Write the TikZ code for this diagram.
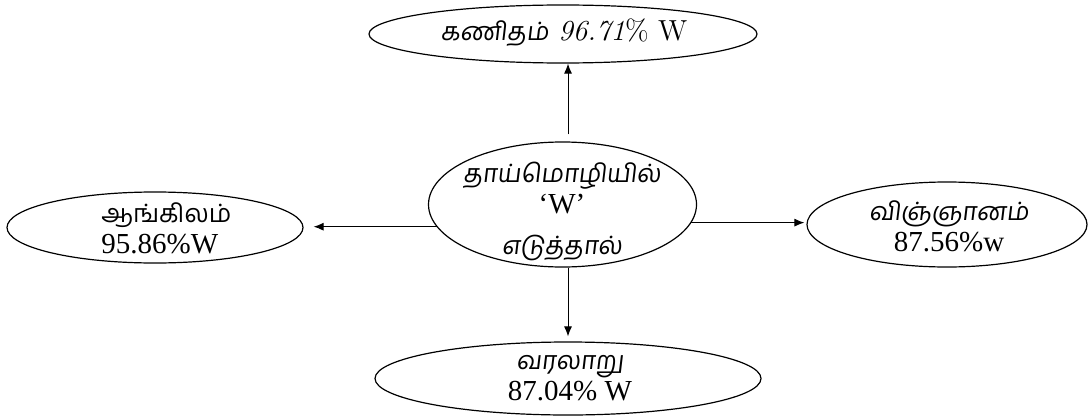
\documentclass[tikz,border=0pt]{standalone}
\usepackage{fontspec}
\usetikzlibrary{shapes.geometric,arrows.meta}
\newfontfamily\tamil[Script=Tamil,FakeSlant=0.12,Scale=0.87]{Hind Madurai}
\newfontfamily\tamilup[Script=Tamil,Scale=0.87]{Hind Madurai}
\newfontfamily\tms{Liberation Serif}
\begin{document}
\begin{tikzpicture}[x=0.5pt,y=-0.5pt,
  bubble/.style={draw,ellipse,inner sep=0pt,line width=0.6pt},
  caption/.style={align=center,inner sep=0pt,
    font=\fontsize{14.5}{15.5}\selectfont},
  link/.style={-{Latex[length=5pt,width=4pt]},line width=0.5pt}]
\useasboundingbox (0,0) rectangle (1090,417);

% ellipses
\node[bubble,minimum width=194pt,minimum height=29pt]   (top)   at (563,34)    {};
\node[bubble,minimum width=134pt,minimum height=62.5pt] (mid)   at (562.5,204.5) {};
\node[bubble,minimum width=148pt,minimum height=35.5pt] (left)  at (155,227.5) {};
\node[bubble,minimum width=140pt,minimum height=42.5pt] (right) at (947,224.5) {};
\node[bubble,minimum width=193pt,minimum height=36.5pt] (bot)   at (568,378.5) {};

% texts
\node[caption] (topt) at (564,33) {{\tamil கணிதம்} {\itshape 96.71}\% W};
\node[caption] (midt1) at (562,176) {\tamil தாய்மொழியில்};
\node[caption] (midt2) at (562,204) {\tms ‘W’};
\node[caption] (midt3) at (562,248) {\tamil எடுத்தால்};
\node[caption,align=left,anchor=west] (leftt) at (101,228)
  {{\tamilup ஆங்கிலம்}\\ \tms 95.86\%W};
\node[caption] (rightt) at (949,226) {{\tamil விஞ்ஞானம்}\\ \tms 87.56\%w};
\node[caption] (bott) at (570,378) {{\tamil வரலாறு}\\ \tms 87.04\% W};

% connectors
\draw[link] ([xshift=2.75pt,yshift=3.5pt]mid.north) -- ([xshift=2.5pt]top.south);
\draw[link] ([xshift=2.75pt]mid.south) -- ([yshift=2.5pt]bot.north);
\draw[link,shorten >=5pt] (mid.190) -- (mid.190 -| left.east);
\draw[link,shorten >=1pt] (mid.352) -- (mid.352 -| right.west);
\end{tikzpicture}
\end{document}
